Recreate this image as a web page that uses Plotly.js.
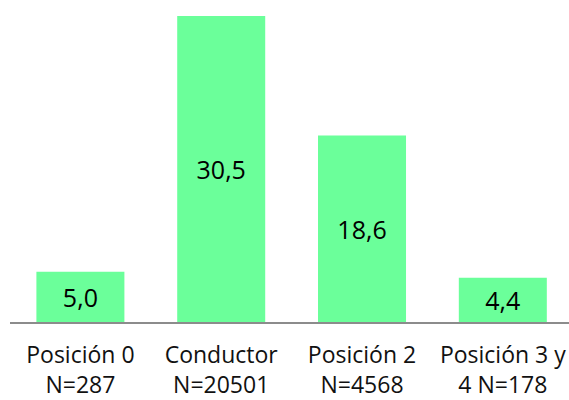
<!DOCTYPE html>
<html>
<head>
<meta charset="utf-8">
<script src="https://cdn.plot.ly/plotly-3.0.1.min.js"></script>
<style>html,body{margin:0;padding:0;background:#fff;}#chart{width:569px;height:400px;}</style>
</head>
<body>
<div id="chart"></div>
<script>
const categories = ["Posición 0<br>N=287", "Conductor<br>N=20501", "Posición 2<br>N=4568", "Posición 3 y<br>4 N=178"];
const values = [5.0, 30.5, 18.6, 4.4];

const trace = {
  type: 'bar',
  x: categories,
  y: values,
  marker: {color: '#6BFF9A'},
  texttemplate: '%{y:.1f}',
  textposition: 'inside',
  insidetextanchor: 'middle',
  textfont: {family: '"Open Sans", sans-serif', size: 25, color: '#000'},
  hoverinfo: 'none'
};

const layout = {
  width: 569, height: 400,
  margin: {l: 10, r: 0, t: 0, b: 78},
  separators: ',.',
  bargap: 0.375,
  showlegend: false,
  paper_bgcolor: '#fff',
  plot_bgcolor: '#fff',
  xaxis: {
    range: [-0.5, 3.47],
    showline: true, linecolor: '#8C8C8C', linewidth: 1.5,
    ticks: '', ticklabelstandoff: 12,
    tickfont: {family: '"Open Sans", sans-serif', size: 23, color: '#111'},
    showgrid: false, zeroline: false, fixedrange: true
  },
  yaxis: {
    range: [0, 32.1], visible: false, showgrid: false, zeroline: false, fixedrange: true
  }
};

Plotly.newPlot('chart', [trace], layout, {displayModeBar: false, staticPlot: true});
</script>
</body>
</html>
